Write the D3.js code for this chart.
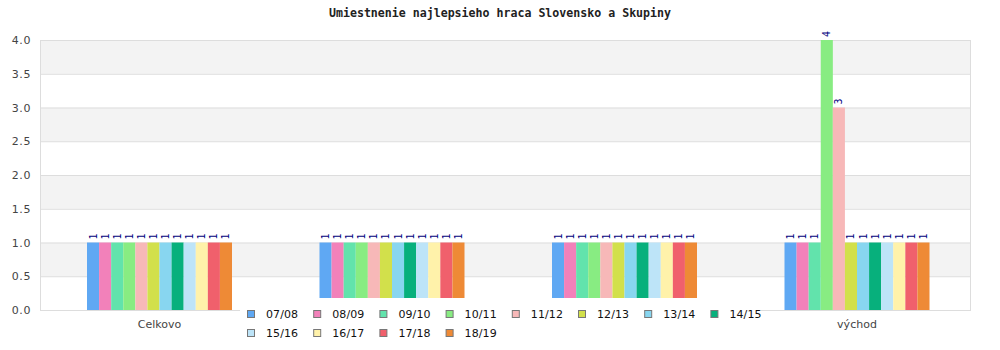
<!DOCTYPE html>
<html><head><meta charset="utf-8">
<script src="https://cdn.jsdelivr.net/npm/d3@7"></script>
<style>body{margin:0;background:#fff}svg{display:block}</style>
</head><body>
<svg id="c" width="1000" height="350"></svg>
<script>
const title = "Umiestnenie najlepsieho hraca Slovensko a Skupiny";
const categories = ["Celkovo", "západ", "stred", "východ"];
const seasons = ["07/08","08/09","09/10","10/11","11/12","12/13","13/14","14/15","15/16","16/17","17/18","18/19"];
const colors = ["#5fa8f3","#f281ba","#62e3ac","#88ec82","#f7b8b8","#d2e04b","#88d6f0","#07b07c","#bde4f8","#fff2aa","#f0606c","#ee8a36"];
const valuesCelkovo = [1,1,1,1,1,1,1,1,1,1,1,1];
const valuesZapad   = [1,1,1,1,1,1,1,1,1,1,1,1];
const valuesStred   = [1,1,1,1,1,1,1,1,1,1,1,1];
const valuesVychod  = [1,1,1,4,3,1,1,1,1,1,1,1];
const yTicks = [0,0.5,1,1.5,2,2.5,3,3.5,4];

const series = [valuesCelkovo, valuesZapad, valuesStred, valuesVychod];
const svg = d3.select("#c");
const L = 40, R = 970, T = 40, B = 310;
const x0 = d3.scaleBand().domain(categories).range([L, R]);
const x1 = d3.scaleBand().domain(seasons).range([47, 47 + 145]);
const y = d3.scaleLinear().domain([0, 4]).range([B, T]);
const legendBox = {x: 240, y: 298, w: 520, h: 52};

// alternating bands
for (let i = 0; i < yTicks.length - 1; i++) {
  const a = yTicks[i], b = yTicks[i+1];
  svg.append("rect").attr("x", L).attr("width", R - L)
    .attr("y", y(b)).attr("height", y(a) - y(b))
    .attr("fill", i % 2 === 0 ? "#ffffff" : "#f3f3f3");
}
// grid
svg.append("g").selectAll("line").data(yTicks).join("line")
  .attr("x1", L).attr("x2", R).attr("y1", d => y(d) + 0.5).attr("y2", d => y(d) + 0.5)
  .attr("stroke", "#dddddd");
svg.append("line").attr("x1", L + 0.5).attr("x2", L + 0.5).attr("y1", T).attr("y2", B).attr("stroke", "#dddddd");
svg.append("line").attr("x1", R + 0.5).attr("x2", R + 0.5).attr("y1", T).attr("y2", B + 1).attr("stroke", "#dddddd");

// y labels
const yAxis = d3.axisLeft(y).tickValues(yTicks).tickFormat(d3.format(".1f")).tickSize(0).tickPadding(9);
const ya = svg.append("g").attr("transform", `translate(${L},0)`).call(yAxis);
ya.select(".domain").remove();
ya.selectAll("text").attr("font-family", "DejaVu Sans").attr("font-size", 11).attr("fill", "#444").attr("letter-spacing", 0.6);

// bars
const g = svg.append("g");
categories.forEach((cat, ci) => {
  const gg = g.append("g").attr("transform", `translate(${x0(cat)},0)`);
  gg.selectAll("rect").data(series[ci]).join("rect")
    .attr("x", (d, i) => x1(seasons[i]))
    .attr("width", x1.bandwidth())
    .attr("y", d => y(d))
    .attr("height", d => y(0) - y(d))
    .attr("fill", (d, i) => colors[i]);
  gg.selectAll("text").data(series[ci]).join("text")
    .attr("transform", (d, i) => `translate(${x1(seasons[i]) + x1.bandwidth()/2 + 3.5},${y(d) - 3}) rotate(-90)`)
    .attr("font-family", "DejaVu Sans Mono").attr("font-size", 10).attr("fill", "#000080")
    .text(d => d);
});

// x labels (those hidden behind the legend box are not drawn)
const labelX = d => x0(d) + 47 + 145/2;
svg.append("g").selectAll("text")
  .data(categories.filter(d => labelX(d) < legendBox.x || labelX(d) > legendBox.x + legendBox.w))
  .join("text")
  .attr("x", labelX).attr("y", 328)
  .attr("text-anchor", "middle").attr("font-family", "DejaVu Sans").attr("font-size", 11).attr("fill", "#444")
  .text(d => d);

// title
svg.append("text").attr("x", 500).attr("y", 17).attr("text-anchor", "middle")
  .attr("font-family", "DejaVu Sans Mono").attr("font-weight", "bold").attr("font-size", 11.6).attr("fill", "#222")
  .text(title);

// legend
const lg = svg.append("g");
lg.append("rect").attr("x", legendBox.x).attr("y", legendBox.y).attr("width", legendBox.w).attr("height", legendBox.h).attr("fill", "#fff");
const perRow = 8;
seasons.forEach((s, i) => {
  const col = i % perRow, row = Math.floor(i / perRow);
  const lx = 247 + col * 66.2, ly = 310 + row * 19;
  lg.append("rect").attr("x", lx + 0.5).attr("y", ly + 0.5).attr("width", 7).attr("height", 7)
    .attr("fill", colors[i]).attr("stroke", "#777");
  lg.append("text").attr("x", lx + 19).attr("y", ly + 8).attr("font-family", "DejaVu Sans").attr("font-size", 11)
    .attr("fill", "#111").attr("letter-spacing", 0.1).text(s);
});
</script>
</body></html>
